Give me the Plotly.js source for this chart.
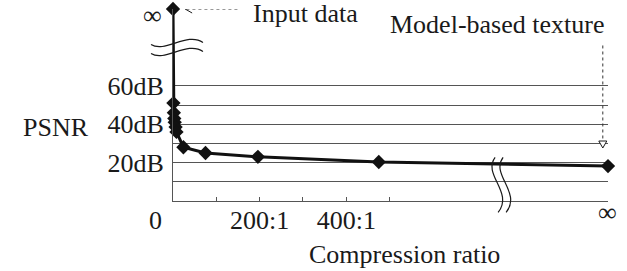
<!DOCTYPE html>
<html>
<head>
<meta charset="utf-8">
<script src="https://cdn.plot.ly/plotly-3.0.1.min.js"></script>
<style>html,body{margin:0;padding:0;background:#fff;}#chart{width:627px;height:271px;}</style>
</head>
<body>
<div id="chart"></div>
<script>
// axis position used for the "infinity" ends of each axis
const INF_X = 1004;
const INF_Y = 100;

// data (compression ratio N:1, PSNR in dB); 'inf' = infinity
const compressionRatio = ['0', 1, 2, 3, 4, 6, 8, 24, 75, 196, 475, 'inf'];
const psnrDb = ['inf', 51, 46, 43, 41, 38.5, 36, 28, 25, 23, 20.3, 18.2];

const xTickVals = [100, 200, 300, 400, 500];
const xTickText = ['', '200:1', '', '400:1', ''];
const yTickVals = [10, 20, 30, 40, 50, 60];
const yTickText = ['', '20dB', '', '40dB', '', '60dB'];

const toX = v => v === 'inf' ? INF_X : Number(v);
const toY = v => v === 'inf' ? INF_Y : Number(v);

const FONT = 'Liberation Serif, Times New Roman, serif';
const INK = '#1a1a1a';
const FS = 26;

const trace = {
  x: compressionRatio.map(toX),
  y: psnrDb.map(toY),
  type: 'scatter',
  mode: 'lines+markers',
  line: {color: '#111', width: 3},
  marker: {symbol: 'diamond', size: 11, color: '#111'},
  cliponaxis: false,
  hoverinfo: 'skip'
};

const pixPath = (xref, yref, xa, ya, path, extra) => Object.assign({
  type: 'path', xref: xref, yref: yref, xsizemode: 'pixel', ysizemode: 'pixel',
  xanchor: xa, yanchor: ya, path: path,
  line: {color: INK, width: 1}
}, extra || {});

const shapes = [
  // y-axis break
  pixPath('paper', 'paper', 0, 0.797, 'M -22 3.5 C -8 -5.5, 14 16.5, 30 5.5', {line: {color: INK, width: 1.2}}),
  pixPath('paper', 'paper', 0, 0.797, 'M -22 -5.5 C -8 -14.5, 14 7.5, 30 -3.5', {line: {color: INK, width: 1.2}}),
  // x-axis break
  pixPath('paper', 'paper', 0.752, 0.086, 'M -5 27 C -18 10, 14 -8, -2 -28', {line: {color: INK, width: 1.2}}),
  pixPath('paper', 'paper', 0.752, 0.086, 'M 3 27 C -10 10, 22 -8, 6 -28', {line: {color: INK, width: 1.2}}),
  // "Input data" pointer
  {type: 'line', xref: 'x', yref: 'y', x0: 31, x1: 150, y0: INF_Y, y1: INF_Y,
   line: {color: '#333', width: 1, dash: 'dot'}},
  pixPath('x', 'y', 28, INF_Y, 'M 7 4 L 0 0 L 7 -4'),
  // "Model-based texture" pointer
  {type: 'line', xref: 'x', yref: 'y', x0: 992, x1: 992, y0: 81, y1: 30.5,
   line: {color: '#333', width: 1, dash: 'dot'}},
  pixPath('x', 'y', 992, 27.6, 'M -4 7 L 0 0 L 4 7 Z', {fillcolor: '#fff'})
];

const ann = (text, x, y, xanchor, extra) => Object.assign({
  text: text, xref: 'paper', yref: 'paper', x: x, y: y,
  xanchor: xanchor, yanchor: 'middle', showarrow: false, borderpad: 0,
  font: {family: FONT, size: FS, color: INK}
}, extra || {});

const annotations = [
  ann('Input data', 0.181, 0.974, 'left'),
  ann('Model-based texture', 0.497, 0.917, 'left'),
  ann('Compression ratio', 0.533, -0.281, 'center'),
  ann('PSNR', -0.269, 0.385, 'center'),
  ann('0', -0.041, -0.104, 'center'),
  ann('\u221E', 0.998, -0.062, 'center'),
  ann('\u221E', -0.046, 1.047, 'center', {yanchor: 'top'})
];

const layout = {
  width: 627, height: 271,
  margin: {l: 173, r: 19, t: 9, b: 70, pad: 0},
  paper_bgcolor: '#fff', plot_bgcolor: '#fff',
  showlegend: false,
  font: {family: FONT, size: FS, color: INK},
  xaxis: {
    range: [0, INF_X], showgrid: false, zeroline: false,
    showline: true, linecolor: '#555', linewidth: 1,
    tickmode: 'array', tickvals: xTickVals, ticktext: xTickText,
    ticks: 'inside', ticklen: 4, tickcolor: '#555', tickwidth: 1,
    tickfont: {family: FONT, size: FS, color: INK},
    ticklabelstandoff: -4
  },
  yaxis: {
    range: [0, INF_Y], zeroline: false,
    showgrid: true, gridcolor: '#555', gridwidth: 1,
    showline: true, linecolor: '#555', linewidth: 1,
    tickmode: 'array', tickvals: yTickVals, ticktext: yTickText,
    ticks: '', tickfont: {family: FONT, size: FS, color: INK},
    ticklabelstandoff: 3
  },
  shapes: shapes,
  annotations: annotations
};

Plotly.newPlot('chart', [trace], layout, {staticPlot: true, displayModeBar: false});
</script>
</body>
</html>
